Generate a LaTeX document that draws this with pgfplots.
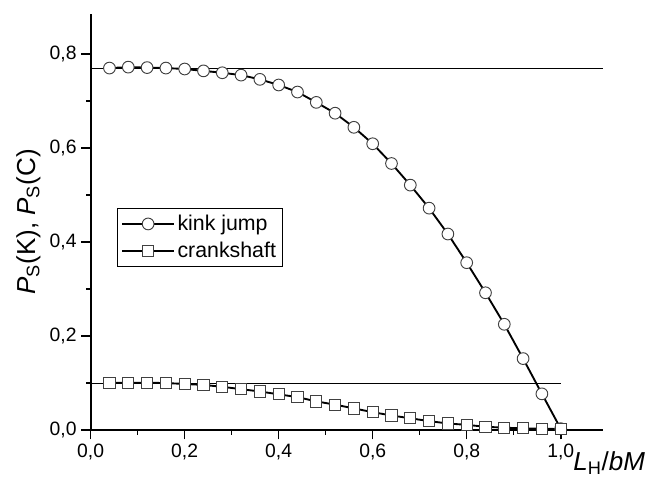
\documentclass[border=0pt]{standalone}
\usepackage{fontspec}
\setmainfont{Liberation Sans}
\usepackage{pgfplots}
\pgfplotsset{compat=1.18}
\begin{document}
\begin{tikzpicture}
\begin{axis}[
  scale only axis,
  width=384.2pt, height=312pt,
  xmin=0, xmax=1.09, ymin=0, ymax=0.885,
  axis x line*=bottom, axis y line*=left,
  axis line style={line width=1.5pt},
  xtick={0,0.2,0.4,0.6,0.8,1.0},
  ytick={0,0.2,0.4,0.6,0.8},
  minor x tick num=1, minor y tick num=1,
  tick align=outside,
  major tick length=7pt, minor tick length=3.5pt,
  tick style={line width=1.2pt, black},
  /pgf/number format/.cd, fixed, fixed zerofill, precision=1, use comma, assume math mode=true,
  /pgfplots/.cd,
  ticklabel style={font=\fontsize{14.5}{16}\selectfont},
  xlabel={\textit{L}\textsubscript{H}/\textit{bM}},
  xlabel style={font=\fontsize{19.5}{22}\selectfont, at={(rel axis cs:1,0)}, anchor=east, xshift=35pt, yshift=-25pt},
  ylabel={\textit{P}\textsubscript{S}(K), \textit{P}\textsubscript{S}(C)},
  ylabel style={font=\fontsize{19.5}{22}\selectfont},
  legend style={at={(axis cs:0.056,0.472)}, anchor=north west, draw=black, line width=0.6pt,
    font=\fontsize{16}{18}\selectfont, row sep=3pt, inner sep=3pt},
  legend cell align=left,
  legend image code/.code={\draw[mark repeat=2,mark phase=2,#1] plot coordinates {(0cm,0cm) (0.68cm,0cm) (1.36cm,0cm)};},
]
\addplot[black, line width=0.75pt, forget plot] coordinates {(0,0.770) (1.09,0.770)};
\addplot[black, line width=0.75pt, forget plot] coordinates {(0,0.100) (1.0,0.100)};
\addplot[black, line width=1.4pt, mark=*, mark size=4.4pt,
  mark options={draw=black!75, fill=white, line width=0.7pt}] coordinates {
(0.04,0.770) (0.08,0.772) (0.12,0.771) (0.16,0.770) (0.20,0.768)
(0.24,0.764) (0.28,0.760) (0.32,0.755) (0.36,0.746) (0.40,0.734)
(0.44,0.719) (0.48,0.697) (0.52,0.674) (0.56,0.644) (0.60,0.609)
(0.64,0.567) (0.68,0.521) (0.72,0.472) (0.76,0.417) (0.80,0.356)
(0.84,0.292) (0.88,0.225) (0.92,0.152) (0.96,0.077) (1.00,0.003)
};
\addlegendentry{kink jump}
\addplot[black, line width=1.4pt, mark=square*, mark size=4.2pt,
  mark options={draw=black!75, fill=white, line width=0.7pt}] coordinates {
(0.04,0.1006) (0.08,0.1006) (0.12,0.1006) (0.16,0.100) (0.20,0.098)
(0.24,0.096) (0.28,0.092) (0.32,0.087) (0.36,0.082) (0.40,0.076)
(0.44,0.070) (0.48,0.061) (0.52,0.054) (0.56,0.046) (0.60,0.038)
(0.64,0.031) (0.68,0.025) (0.72,0.019) (0.76,0.014) (0.80,0.011)
(0.84,0.007) (0.88,0.005) (0.92,0.0036) (0.96,0.003) (1.00,0.002)
};
\addlegendentry{crankshaft}
\end{axis}
\pgfresetboundingbox
\path (-68pt,-39pt) rectangle (418.7pt,322.5pt);
\end{tikzpicture}
\end{document}
